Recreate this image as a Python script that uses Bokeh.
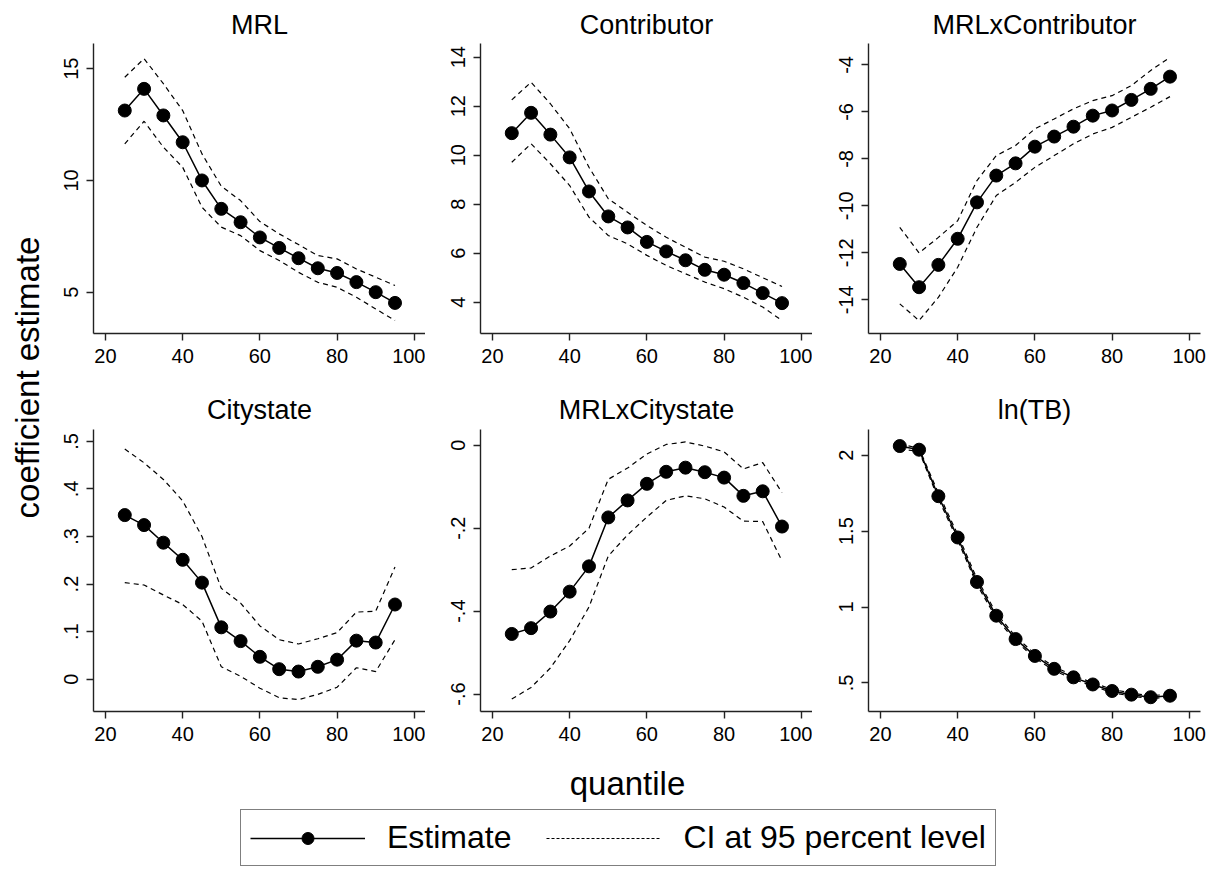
import math
from bokeh.plotting import figure
from bokeh.layouts import row, column
from bokeh.models import FixedTicker, Range1d, Label, Legend, LegendItem
from bokeh.embed import file_html
from bokeh.resources import INLINE

FONT = "Liberation Sans"

quantiles = [25, 30, 35, 40, 45, 50, 55, 60, 65, 70, 75, 80, 85, 90, 95]
x_ticks = [20, 40, 60, 80, 100]

titles = ["MRL", "Contributor", "MRLxContributor", "Citystate", "MRLxCitystate", "ln(TB)"]

mrl_est = [13.13, 14.10, 12.91, 11.71, 10.00, 8.73, 8.13, 7.45, 6.98, 6.52, 6.07, 5.86, 5.45, 5.00, 4.52]
mrl_hi = [14.62, 15.45, 14.33, 13.13, 11.19, 9.74, 9.10, 8.16, 7.61, 7.13, 6.64, 6.49, 6.04, 5.67, 5.30]
mrl_lo = [11.64, 12.65, 11.49, 10.59, 8.80, 7.91, 7.53, 6.86, 6.42, 5.89, 5.44, 5.22, 4.77, 4.25, 3.73]

con_est = [10.90, 11.73, 10.84, 9.91, 8.52, 7.50, 7.05, 6.46, 6.07, 5.71, 5.32, 5.12, 4.78, 4.37, 3.96]
con_hi = [12.26, 12.98, 12.10, 11.08, 9.51, 8.22, 7.67, 7.13, 6.65, 6.24, 5.84, 5.67, 5.36, 5.00, 4.64]
con_lo = [9.71, 10.47, 9.65, 8.76, 7.47, 6.72, 6.38, 5.91, 5.50, 5.16, 4.82, 4.55, 4.20, 3.80, 3.25]

mxc_est = [-12.47, -13.46, -12.51, -11.40, -9.85, -8.71, -8.19, -7.48, -7.05, -6.63, -6.16, -5.94, -5.49, -5.02, -4.50]
mxc_hi = [-10.91, -12.00, -11.34, -10.63, -8.92, -7.86, -7.43, -6.72, -6.30, -5.87, -5.52, -5.31, -4.88, -4.24, -3.68]
mxc_lo = [-14.17, -14.88, -13.89, -12.61, -10.91, -9.56, -9.00, -8.36, -7.86, -7.36, -6.94, -6.66, -6.23, -5.80, -5.35]

cit_est = [0.345, 0.324, 0.287, 0.251, 0.203, 0.109, 0.080, 0.047, 0.021, 0.016, 0.026, 0.041, 0.081, 0.077, 0.157]
cit_hi = [0.484, 0.455, 0.420, 0.375, 0.300, 0.191, 0.160, 0.112, 0.083, 0.074, 0.085, 0.098, 0.141, 0.143, 0.236]
cit_lo = [0.203, 0.198, 0.177, 0.157, 0.122, 0.026, 0.006, -0.019, -0.039, -0.043, -0.032, -0.017, 0.024, 0.016, 0.083]

mxcs_est = [-0.455, -0.441, -0.401, -0.353, -0.292, -0.174, -0.133, -0.093, -0.064, -0.054, -0.065, -0.078, -0.122, -0.111, -0.196]
mxcs_hi = [-0.300, -0.296, -0.267, -0.243, -0.200, -0.082, -0.055, -0.021, 0.002, 0.008, -0.002, -0.016, -0.057, -0.042, -0.114]
mxcs_lo = [-0.612, -0.584, -0.537, -0.471, -0.390, -0.267, -0.216, -0.173, -0.133, -0.122, -0.129, -0.149, -0.183, -0.184, -0.279]

ltb_est = [2.060, 2.036, 1.730, 1.458, 1.165, 0.943, 0.789, 0.678, 0.593, 0.537, 0.490, 0.447, 0.423, 0.406, 0.416]
ltb_hi = [2.075, 2.045, 1.750, 1.478, 1.185, 0.960, 0.805, 0.692, 0.606, 0.549, 0.501, 0.458, 0.433, 0.416, 0.426]
ltb_lo = [2.040, 2.025, 1.712, 1.440, 1.147, 0.927, 0.775, 0.665, 0.581, 0.525, 0.479, 0.437, 0.413, 0.397, 0.407]

mrl_yticks = [5, 10, 15]
mrl_ylabels = ["5", "10", "15"]
con_yticks = [4, 6, 8, 10, 12, 14]
con_ylabels = ["4", "6", "8", "10", "12", "14"]
mxc_yticks = [-14, -12, -10, -8, -6, -4]
mxc_ylabels = ["-14", "-12", "-10", "-8", "-6", "-4"]
cit_yticks = [0, 0.1, 0.2, 0.3, 0.4, 0.5]
cit_ylabels = ["0", ".1", ".2", ".3", ".4", ".5"]
mxcs_yticks = [-0.6, -0.4, -0.2, 0]
mxcs_ylabels = ["-.6", "-.4", "-.2", "0"]
ltb_yticks = [0.5, 1, 1.5, 2]
ltb_ylabels = [".5", "1", "1.5", "2"]

y_label = "coefficient estimate"
x_label = "quantile"
legend_labels = ["Estimate", "CI at 95 percent level"]

AXIS_COLOR = "#222222"


def panel(title, est, lo, hi, yticks, ylabels, yr, left, fw, right, top, fh, bottom, standoff):
    p = figure(width=left + fw + right, height=top + fh + bottom,
               x_range=Range1d(16.9, 102.9), y_range=Range1d(*yr),
               output_backend="svg", toolbar_location=None, title=title,
               min_border_left=left, min_border_right=right,
               min_border_top=top, min_border_bottom=bottom)
    p.title.align = "center"
    p.title.text_font = FONT
    p.title.text_font_style = "normal"
    p.title.text_font_size = "27px"
    p.title.text_color = "black"
    p.title.standoff = standoff
    p.outline_line_color = None
    p.grid.visible = False
    p.xaxis.ticker = FixedTicker(ticks=x_ticks)
    p.xaxis.major_label_overrides = {t: str(t) for t in x_ticks}
    p.yaxis.ticker = FixedTicker(ticks=yticks)
    p.yaxis.major_label_overrides = {t: l for t, l in zip(yticks, ylabels)}
    p.yaxis.major_label_orientation = "parallel"
    for ax in (p.xaxis[0], p.yaxis[0]):
        ax.axis_line_color = AXIS_COLOR
        ax.axis_line_width = 1.4
        ax.major_tick_line_color = AXIS_COLOR
        ax.major_tick_line_width = 1.4
        ax.major_tick_out = 7
        ax.major_tick_in = 0
        ax.minor_tick_line_color = None
        ax.major_label_text_font = FONT
        ax.major_label_text_font_size = "20px"
        ax.major_label_text_color = "black"
        ax.major_label_standoff = 8
    p.line(quantiles, hi, line_color="black", line_width=1.2, line_dash="5 4")
    p.line(quantiles, lo, line_color="black", line_width=1.2, line_dash="5 4")
    p.line(quantiles, est, line_color="black", line_width=1.5)
    p.scatter(quantiles, est, size=13, fill_color="black", line_color="black")
    return p


T1, FH1, B1 = 43, 290, 54
T2, FH2, B2 = 35, 289, 36

p1 = panel(titles[0], mrl_est, mrl_lo, mrl_hi, mrl_yticks, mrl_ylabels, (3.15, 16.13), 43, 332, 0, T1, FH1, B1, 8)
p2 = panel(titles[1], con_est, con_lo, con_hi, con_yticks, con_ylabels, (2.72, 14.56), 55, 332, 0, T1, FH1, B1, 8)
p3 = panel(titles[2], mxc_est, mxc_lo, mxc_hi, mxc_yticks, mxc_ylabels, (-15.43, -3.09), 56, 332, 8, T1, FH1, B1, 8)
p4 = panel(titles[3], cit_est, cit_lo, cit_hi, cit_yticks, cit_ylabels, (-0.068, 0.525), 43, 332, 0, T2, FH2, B2, 10)
p5 = panel(titles[4], mxcs_est, mxcs_lo, mxcs_hi, mxcs_yticks, mxcs_ylabels, (-0.642, 0.038), 55, 332, 0, T2, FH2, B2, 10)
p6 = panel(titles[5], ltb_est, ltb_lo, ltb_hi, ltb_yticks, ltb_ylabels, (0.312, 2.169), 56, 332, 8, T2, FH2, B2, 10)

# left label strip
YL_W, YL_H = 50, T1 + FH1 + B1 + T2 + FH2 + B2
yl = figure(width=YL_W, height=YL_H, x_range=Range1d(0, YL_W), y_range=Range1d(0, YL_H),
            x_axis_type=None, y_axis_type=None, output_backend="svg", toolbar_location=None,
            min_border_left=0, min_border_right=0, min_border_top=0, min_border_bottom=0)
yl.outline_line_color = None
yl.add_layout(Label(x=27, y=YL_H - 377, text=y_label, angle=math.pi / 2,
                    text_align="center", text_baseline="middle", text_font=FONT,
                    text_font_size="33px", text_color="black"))

# bottom strip with x label and legend
BW, BH = 1208, 878 - YL_H
bt = figure(width=BW, height=BH, x_range=Range1d(0, BW), y_range=Range1d(0, BH),
            x_axis_type=None, y_axis_type=None, output_backend="svg", toolbar_location=None,
            min_border_left=0, min_border_right=0, min_border_top=0, min_border_bottom=0)
bt.outline_line_color = None
bt.add_layout(Label(x=627, y=878 - 783, text=x_label, text_align="center",
                    text_baseline="alphabetic", text_font=FONT, text_font_size="33px",
                    text_color="black"))
r_line = bt.line(quantiles, mrl_est, line_color="black", line_width=1.5, visible=False)
r_pt = bt.scatter(quantiles, mrl_est, size=13, fill_color="black", line_color="black", visible=False)
r_ci = bt.line(quantiles, mrl_hi, line_color="black", line_width=1.2, line_dash="3 2", visible=False)
leg = Legend(items=[LegendItem(label=legend_labels[0], renderers=[r_line, r_pt]),
                    LegendItem(label=legend_labels[1], renderers=[r_ci])],
             orientation="horizontal", location=(240, 878 - 866),
             border_line_color="black", border_line_width=1.3,
             label_text_font=FONT, label_text_font_size="32px", label_text_color="black",
             glyph_width=115, glyph_height=30, label_standoff=22, spacing=35,
             padding=9, margin=0, background_fill_alpha=1.0,
             inactive_fill_alpha=0.0)
bt.add_layout(leg, "center")

grid = column(row(p1, p2, p3), row(p4, p5, p6))
page = column(row(yl, grid), bt)

open("out.html", "w").write(file_html(page, INLINE))
